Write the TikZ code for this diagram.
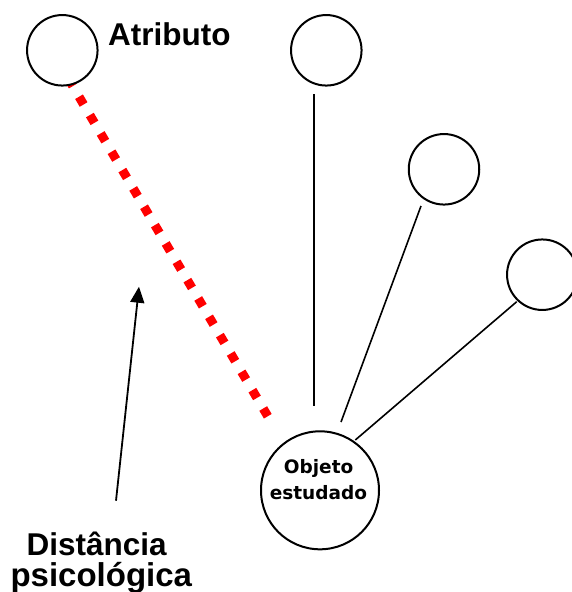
\documentclass[tikz,border=0pt]{standalone}
\usepackage{fontspec}
\setmainfont{Liberation Sans}
\newfontfamily\objfont{DejaVu Sans}
\usetikzlibrary{arrows.meta}
\begin{document}
\begin{tikzpicture}[x=1pt,y=-1pt,
  ring/.style={circle,draw=black,line width=2pt,fill=white,minimum size=70.5pt,inner sep=0pt},
  bigring/.style={ring,minimum size=118pt},
  spoke/.style={draw=black,line width=1.6pt},
  bigtext/.style={anchor=base,inner sep=0pt,font=\fontsize{31.5}{36}\selectfont\bfseries},
  smalltext/.style={anchor=base,inner sep=0pt,font=\objfont\fontsize{18.5}{22}\selectfont\bfseries},
  distline/.style={draw=red,line width=9pt,dash pattern=on 9pt off 12.3pt},
  pointer/.style={draw=black,line width=1.8pt,-{Triangle[length=16pt,width=14pt]}}]

% page frame
\fill[white] (0,0) rectangle (572,592);
\clip (0,0) rectangle (572,592);

% end points of the connectors
\coordinate (d1) at (68.2,78.4);
\coordinate (d2) at (268,416.6);
\coordinate (s1a) at (314,94);
\coordinate (s1b) at (314,406);
\coordinate (s2a) at (421,206);
\coordinate (s2b) at (341,422);
\coordinate (s3a) at (516.7,301.7);
\coordinate (s3b) at (355.3,440);
\coordinate (ptail) at (116,500.7);
\coordinate (ptip) at (139,286.7);

% psychological distance (red, dotted)
\draw[distline] (d1) -- (d2);

% plain spokes
\draw[spoke] (s1a) -- (s1b);
\draw[spoke] (s2a) -- (s2b);
\draw[spoke] (s3a) -- (s3b);

% attribute circles
\node[ring] (attr) at (62.3,50.3) {};
\node[ring] (c2) at (326.3,50.3) {};
\node[ring] (c3) at (444,169.3) {};
\node[ring] (c4) at (542.3,274.7) {};

% studied object
\node[bigring] (obj) at (320,490.3) {};
\node[smalltext] (objA) at (318.6,473.3) {Objeto};
\node[smalltext] (objB) at (318.4,499) {estudado};

% labels
\node[bigtext] (attrlabel) at (169.3,45.7) {Atributo};
\node[bigtext] (distA) at (96.7,555) {Distância};
\node[bigtext,font=\fontsize{33}{38}\selectfont\bfseries] (distB) at (101.3,586) {psicológica};

% pointer to the dotted line
\draw[pointer] (ptail) -- (ptip);
\end{tikzpicture}
\end{document}
